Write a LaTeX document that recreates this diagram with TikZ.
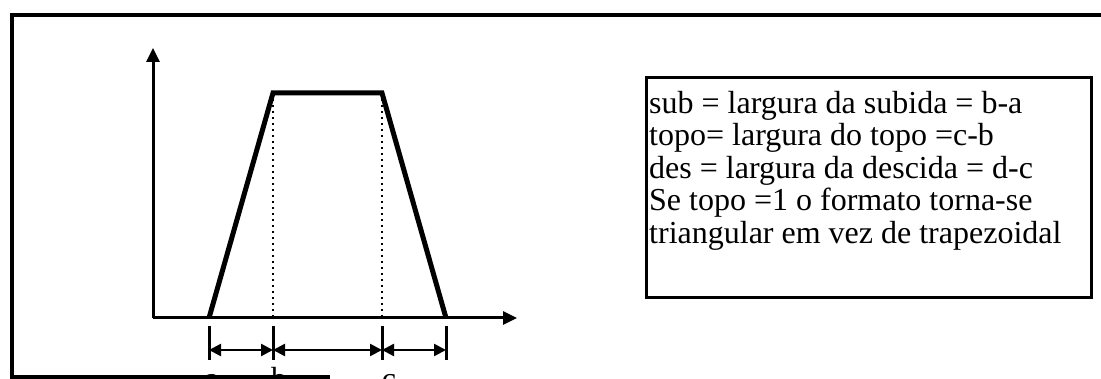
\documentclass[tikz,border=0pt]{standalone}
\usepackage{fontspec}
\setmainfont{Liberation Serif}
\usetikzlibrary{arrows.meta}

\begin{document}
\begin{tikzpicture}[x=1pt, y=-1pt,
  axis/.style={line width=3pt, -{Triangle[length=14pt,width=13pt]}},
  curve/.style={line width=5pt, line join=miter},
  guide/.style={line width=2pt, dash pattern=on 2pt off 4pt},
  tickmark/.style={line width=3pt},
  dim/.style={line width=2.5pt, {Triangle[length=12pt,width=12pt]}-{Triangle[length=12pt,width=12pt]}},
  lbl/.style={font=\fontsize{32}{32.5}\selectfont, inner sep=0pt}]
  \useasboundingbox (0,0) rectangle (1101,379);
  \clip (0,0) rectangle (1101,379);

  % Outer frame (cut off at the right and bottom)
  \draw[line width=3.5pt] (1101,15) -- (12,15) -- (12,377) -- (330,377);

  % Axes
  \coordinate (O) at (153,318);
  \coordinate (ytip) at (153,48);
  \coordinate (xtip) at (517,318);
  \draw[axis] (O) -- (ytip);
  \draw[axis] (O) -- (xtip);

  % Trapezoid
  \coordinate (a) at (209,318);
  \coordinate (b) at (273,93);
  \coordinate (c) at (382,93);
  \coordinate (d) at (446,318);
  \draw[curve] (a) -- (b) -- (c) -- (d);

  % Dotted guides
  \coordinate (b0) at (273,318);
  \coordinate (c0) at (382,318);
  \draw[guide] (b) -- (b0);
  \draw[guide] (c) -- (c0);

  % Widths below the axis
  \coordinate (ma) at (209,350);
  \coordinate (mb) at (273,350);
  \coordinate (mc) at (382,350);
  \coordinate (md) at (446,350);
  \foreach \p in {ma,mb,mc,md}
    \draw[tickmark] (\p) ++(0,-24) -- ++(0,34);
  \draw[dim] (ma) -- (mb);
  \draw[dim] (mb) -- (mc);
  \draw[dim] (mc) -- (md);

  \node[lbl, anchor=base] (la) at (212,389) {a};
  \node[lbl, anchor=base] (lb) at (279,389) {b};
  \node[lbl, anchor=base] (lc) at (389,389) {c};

  % Legend
  \node[draw, line width=3pt, minimum width=445pt, minimum height=220pt,
        inner sep=0pt, anchor=north west] (legenda) at (645,76) {};
  \node[lbl, anchor=north west, align=left] (texto) at (649,91)
    {sub = largura da subida = b-a\\
     topo= largura do topo =c-b\\
     des = largura da descida = d-c\\
     Se topo =1 o formato torna-se\\
     triangular em vez de trapezoidal};
\end{tikzpicture}
\end{document}
